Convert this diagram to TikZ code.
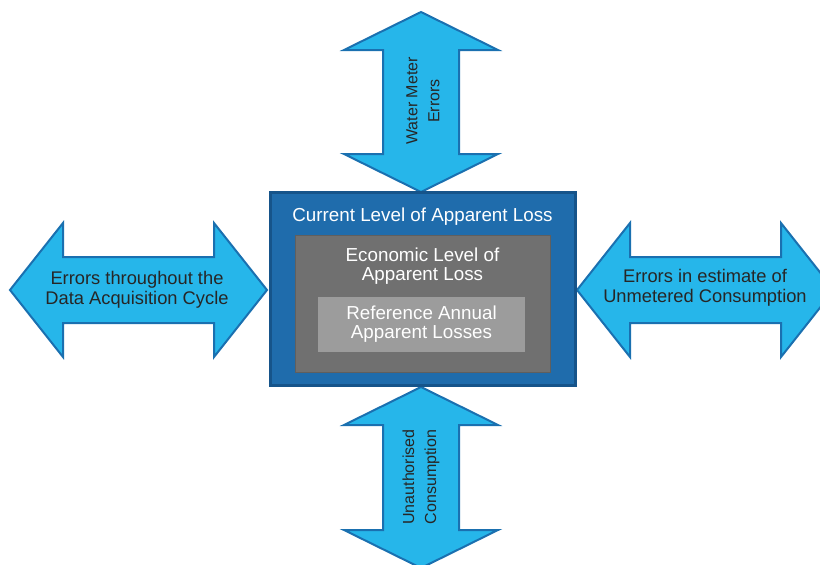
\documentclass[tikz,border=0pt]{standalone}
\usepackage{fontspec}
\setmainfont{Liberation Sans}
\definecolor{arrowfill}{RGB}{38,182,234}
\definecolor{arrowline}{RGB}{26,112,176}
\definecolor{boxfill}{RGB}{31,108,172}
\definecolor{boxline}{RGB}{22,84,138}
\definecolor{darkgray}{RGB}{112,112,112}
\definecolor{midgray}{RGB}{156,156,156}
\begin{document}
\begin{tikzpicture}[x=1pt,y=-1pt,line join=miter,
    arrowshape/.style={fill=arrowfill,draw=arrowline,line width=2pt},
    lbl/.style={inner sep=0pt,align=center,text=black!85,font=\fontsize{18.3}{20}\selectfont},
    vlbl/.style={lbl,rotate=90,font=\fontsize{16}{22}\selectfont},
    boxtext/.style={inner sep=0pt,align=center,text=white,font=\fontsize{18.8}{19}\selectfont}]
  \useasboundingbox (0,0) rectangle (820,565);
  \clip (0,0) rectangle (820,565);
  % horizontal arrow: left tip x, right tip x, centre y
  \def\harrow(#1,#2,#3){%
    \draw[arrowshape] (#1,#3) -- (#1+53,#3-67) -- (#1+53,#3-33) -- (#2-53,#3-33)
      -- (#2-53,#3-67) -- (#2,#3) -- (#2-53,#3+67) -- (#2-53,#3+33)
      -- (#1+53,#3+33) -- (#1+53,#3+67) -- cycle;}
  % vertical arrow: centre x, top tip y, bottom tip y
  \def\varrow(#1,#2,#3){%
    \draw[arrowshape] (#1,#2) -- (#1+77,#2+38) -- (#1+38,#2+38) -- (#1+38,#3-38)
      -- (#1+77,#3-38) -- (#1,#3) -- (#1-77,#3-38) -- (#1-38,#3-38)
      -- (#1-38,#2+38) -- (#1-77,#2+38) -- cycle;}
  \harrow(10,267,290)
  \harrow(577,834,290)
  \varrow(421,12,192)
  \varrow(421,387,568)
  \node[lbl] (acquisition) at (137,290) {Errors throughout the\\Data Acquisition Cycle};
  \node[lbl] (unmetered) at (705,288) {Errors in estimate of\\Unmetered Consumption};
  \node[vlbl] (meter) at (423,101) {Water Meter\\Errors};
  \node[vlbl] (unauthorised) at (421,477) {Unauthorised\\Consumption};
  % nested boxes
  \node[draw=boxline,fill=boxfill,line width=3pt,minimum width=305pt,minimum height=193pt] (current) at (422.5,288.5) {};
  \node[boxtext] (currenttxt) at (422.5,217) {Current Level of Apparent Loss};
  \node[draw=darkgray!85!black,fill=darkgray,line width=1pt,minimum width=255pt,minimum height=137pt] (economic) at (422.5,303.5) {};
  \node[boxtext] (economictxt) at (422.5,266) {Economic Level of\\Apparent Loss};
  \node[boxtext,fill=midgray,minimum width=207pt,minimum height=55pt] (reference) at (421.5,324.5) {Reference Annual\\Apparent Losses};
\end{tikzpicture}
\end{document}
